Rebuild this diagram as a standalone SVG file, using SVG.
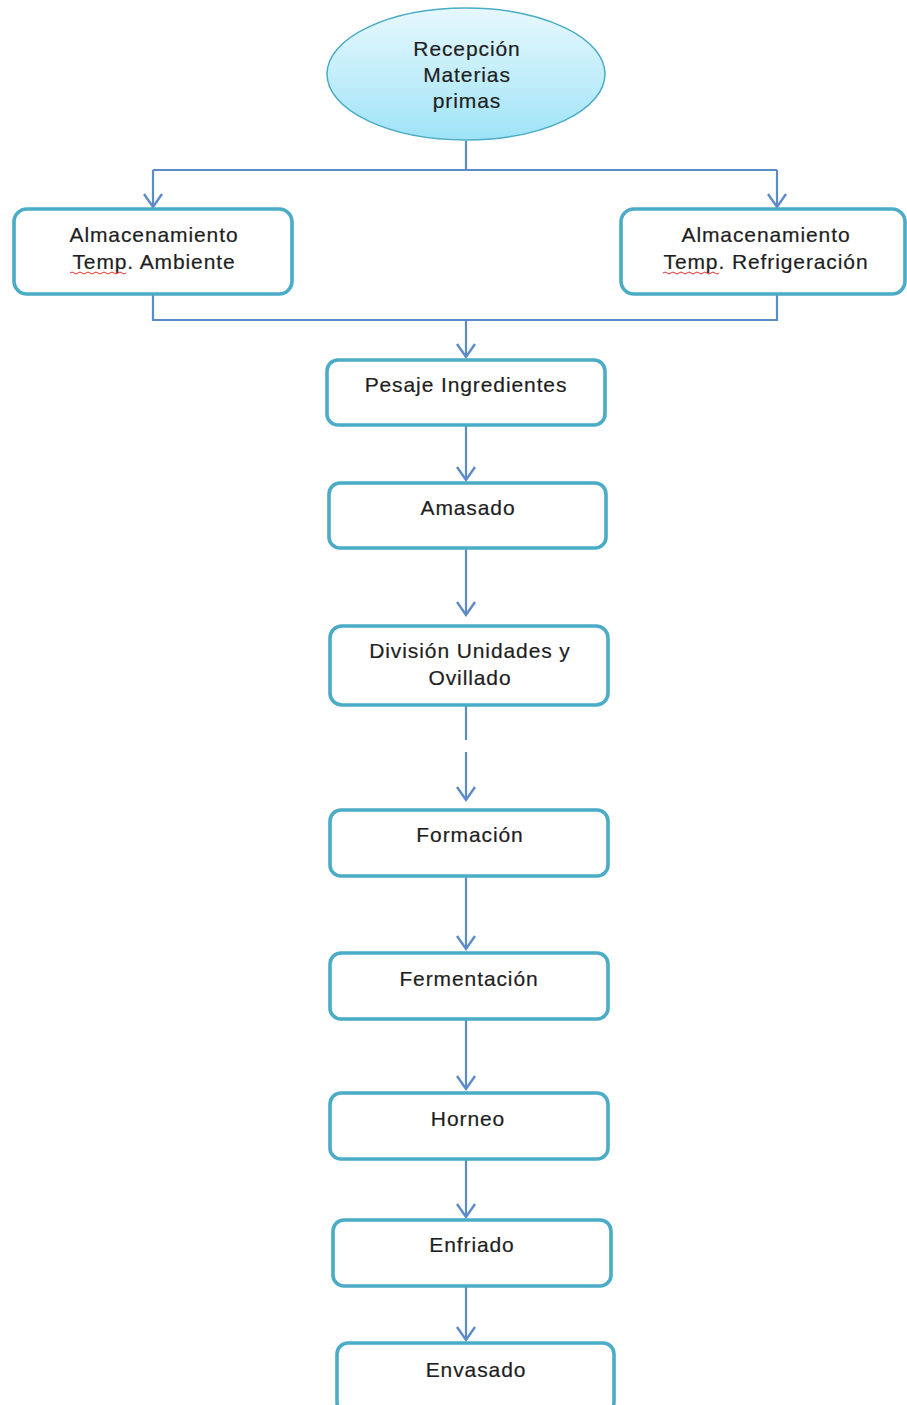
<svg xmlns="http://www.w3.org/2000/svg" width="907" height="1405" viewBox="0 0 907 1405">
<defs>
<linearGradient id="eg" x1="0" y1="0" x2="0" y2="1">
<stop offset="0" stop-color="#e6f8fd"/>
<stop offset="0.5" stop-color="#c4eefa"/>
<stop offset="1" stop-color="#9fe3f7"/>
</linearGradient>
<marker id="ah" markerUnits="userSpaceOnUse" markerWidth="18" markerHeight="24" viewBox="-15 -12 18 24" refX="0" refY="0" orient="auto">
<path d="M-13,-9 L0,0 L-13,9" fill="none" stroke="#5b8bc9" stroke-width="2.4"/>
</marker>
<style>
.box{fill:#fff;stroke:#4aacc6;stroke-width:3.6}
.t{font-family:"Liberation Sans",Arial,sans-serif;font-size:21px;fill:#1e1e1e;text-anchor:middle;letter-spacing:0.9px;stroke:#1e1e1e;stroke-width:0.2}
.c{fill:none;stroke:#5b8bc9;stroke-width:2.2}
.sq{fill:none;stroke:#e0302a;stroke-width:1}
</style>
</defs>
<rect width="907" height="1405" fill="#fff"/>
<g id="connectors">
<path class="c" d="M466,141 V170 M153,170 H777"/>
<path class="c" d="M153,170 V207" marker-end="url(#ah)"/>
<path class="c" d="M777,170 V207" marker-end="url(#ah)"/>
<path class="c" d="M153,295 V320 H777 V295"/>
<path class="c" d="M466,320 V357" marker-end="url(#ah)"/>
<path class="c" d="M466,426 V480" marker-end="url(#ah)"/>
<path class="c" d="M466,549 V615" marker-end="url(#ah)"/>
<path class="c" d="M466,706 V740"/>
<path class="c" d="M466,752 V800" marker-end="url(#ah)"/>
<path class="c" d="M466,877 V949" marker-end="url(#ah)"/>
<path class="c" d="M466,1020 V1089" marker-end="url(#ah)"/>
<path class="c" d="M466,1160 V1217" marker-end="url(#ah)"/>
<path class="c" d="M466,1287 V1340" marker-end="url(#ah)"/>
</g>
<g id="recepcion">
<ellipse cx="466" cy="74" rx="139" ry="66" fill="url(#eg)" stroke="#4aacc6" stroke-width="1.5"/>
<text class="t" x="467" y="56">Recepción</text>
<text class="t" x="467" y="82">Materias</text>
<text class="t" x="467" y="108">primas</text>
</g>
<g id="alm-ambiente">
<rect class="box" x="14" y="209" width="278" height="85" rx="13"/>
<text class="t" x="154" y="242">Almacenamiento</text>
<text class="t" x="154" y="269">Temp. Ambiente</text>
<path class="sq" d="M70,273 q2,-2 4,0 t4,0 t4,0 t4,0 t4,0 t4,0 t4,0 t4,0 t4,0 t4,0 t4,0 t4,0 t4,0 t4,0"/>
</g>
<g id="alm-refrigeracion">
<rect class="box" x="621" y="209" width="284" height="85" rx="13"/>
<text class="t" x="766" y="242">Almacenamiento</text>
<text class="t" x="766" y="269">Temp. Refrigeración</text>
<path class="sq" d="M663,273 q2,-2 4,0 t4,0 t4,0 t4,0 t4,0 t4,0 t4,0 t4,0 t4,0 t4,0 t4,0 t4,0 t4,0 t4,0"/>
</g>
<g id="pesaje">
<rect class="box" x="327" y="360" width="278" height="65" rx="11"/>
<text class="t" x="466" y="392">Pesaje Ingredientes</text>
</g>
<g id="amasado">
<rect class="box" x="329" y="483" width="277" height="65" rx="11"/>
<text class="t" x="468" y="515">Amasado</text>
</g>
<g id="division">
<rect class="box" x="330" y="626" width="278" height="79" rx="12"/>
<text class="t" x="470" y="658">División Unidades y</text>
<text class="t" x="470" y="685">Ovillado</text>
</g>
<g id="formacion">
<rect class="box" x="330" y="810" width="278" height="66" rx="11"/>
<text class="t" x="470" y="842">Formación</text>
</g>
<g id="fermentacion">
<rect class="box" x="330" y="953" width="278" height="66" rx="11"/>
<text class="t" x="469" y="986">Fermentación</text>
</g>
<g id="horneo">
<rect class="box" x="330" y="1093" width="278" height="66" rx="11"/>
<text class="t" x="468" y="1126">Horneo</text>
</g>
<g id="enfriado">
<rect class="box" x="333" y="1220" width="278" height="66" rx="11"/>
<text class="t" x="472" y="1252">Enfriado</text>
</g>
<g id="envasado">
<rect class="box" x="337" y="1343" width="277" height="70" rx="11"/>
<text class="t" x="476" y="1377">Envasado</text>
</g>
</svg>
